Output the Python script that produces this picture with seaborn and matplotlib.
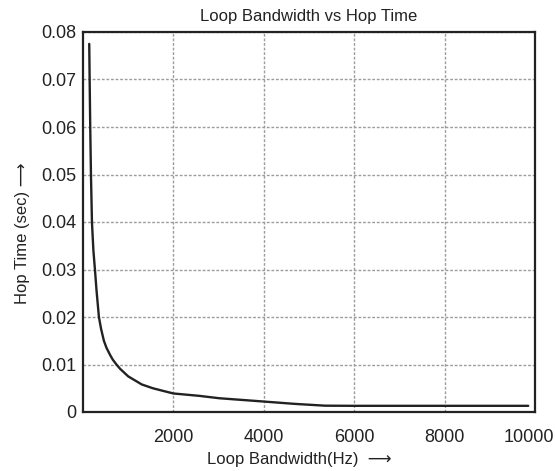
import numpy as np
import pandas as pd
import matplotlib
matplotlib.use("Agg")
import matplotlib.pyplot as plt
from matplotlib.transforms import ScaledTranslation
import seaborn as sns

# Data
bandwidth_hz = [138, 147, 160, 176, 198, 230, 264, 300, 352, 400, 462, 520, 600, 660,
                740, 820, 1000, 1300, 1545, 1750, 2000, 2571, 3011, 4000, 4700, 5356,
                6000, 8000, 9850]
hop_time_s = [0.0775, 0.070, 0.060, 0.050, 0.040, 0.034, 0.030, 0.0255, 0.020, 0.0175,
              0.015, 0.0135, 0.0120, 0.0110, 0.0100, 0.0091, 0.0075, 0.0058, 0.0050,
              0.0045, 0.0039, 0.0034, 0.0029, 0.0022, 0.0017, 0.00133, 0.0013, 0.0013,
              0.0013]
x_ticks = [2000, 4000, 6000, 8000, 10000]
y_ticks = [0, 0.01, 0.02, 0.03, 0.04, 0.05, 0.06, 0.07, 0.08]
y_tick_labels = ["0", "0.01", "0.02", "0.03", "0.04", "0.05", "0.06", "0.07", "0.08"]

sns.set_theme(style="white")
plt.rcParams["font.family"] = ["Liberation Sans", "DejaVu Sans"]

df = pd.DataFrame({"bw": bandwidth_hz, "ht": hop_time_s})
ink = "#222222"

fig = plt.figure(figsize=(5.55, 4.71), dpi=100)
ax = fig.add_axes([83/555, 1 - 412/471, (535 - 83)/555, (412 - 32)/471])

sns.lineplot(data=df, x="bw", y="ht", ax=ax, color=ink, linewidth=1.7)

ax.set_xlim(0, 10000)
ax.set_ylim(0, 0.08)
ax.set_xticks(x_ticks)
ax.set_xticklabels([str(t) for t in x_ticks])
ax.set_yticks(y_ticks)
ax.set_yticklabels(y_tick_labels)

ax.grid(True, color="#9c9c9c", linestyle=(0, (2.0, 1.3)), linewidth=1.0)
ax.set_axisbelow(True)

for s in ax.spines.values():
    s.set_visible(True)
    s.set_color(ink)
    s.set_linewidth(1.6)

ax.tick_params(axis="x", length=0, pad=12, labelsize=13, colors=ink)
ax.tick_params(axis="y", length=0, pad=5, labelsize=13, colors=ink)

# keep the last x tick label inside the figure
last = ax.get_xticklabels()[-1]
last.set_transform(last.get_transform() + ScaledTranslation(-6/100, 0, fig.dpi_scale_trans))

ax.set_title("Loop Bandwidth vs Hop Time", fontsize=12, pad=8, color=ink)
ax.set_xlabel("Loop Bandwidth(Hz)  \u27f6", fontsize=12, color=ink)
ax.set_ylabel("Hop Time (sec) \u27f6", fontsize=12, color=ink)
ax.xaxis.set_label_coords((299 - 83) / 452, (412 - 452) / 380)
ax.yaxis.set_label_coords((30 - 83) / 452, (412 - 233) / 380)

fig.savefig("out.png", dpi=100)
